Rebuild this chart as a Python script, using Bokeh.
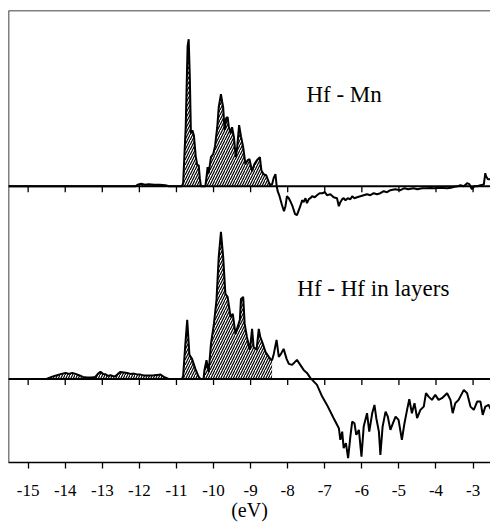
from bokeh.plotting import figure
from bokeh.models import Range1d, Span, Label, FixedTicker
from bokeh.embed import file_html
from bokeh.resources import INLINE

# ---------------- data (energy in eV, curve height in arbitrary units) ----------------
hfmn_E = [-15.53, -12.10, -12.05, -11.95, -11.85, -11.75, -11.60, -11.45, -11.30, -11.20,
          -10.85, -10.82, -10.75, -10.70, -10.67, -10.64, -10.61, -10.57, -10.53, -10.48,
          -10.44, -10.40, -10.37, -10.34, -10.22, -10.19, -10.16, -10.13, -10.07, -10.01,
          -9.96, -9.90, -9.86, -9.80, -9.77, -9.74, -9.70, -9.66, -9.62, -9.59, -9.54,
          -9.50, -9.45, -9.40, -9.36, -9.31, -9.26, -9.20, -9.14, -9.08, -9.03, -8.96,
          -8.90, -8.83, -8.75, -8.71, -8.65, -8.58, -8.51, -8.47, -8.42, -8.38, -8.33,
          -8.30, -8.27, -8.22, -8.16, -8.10, -8.06, -8.02, -7.97, -7.93, -7.87, -7.80,
          -7.75, -7.70, -7.66, -7.61, -7.57, -7.52, -7.48, -7.43, -7.39, -7.34, -7.27,
          -7.21, -7.14, -7.07, -7.00, -6.94, -6.85, -6.76, -6.67, -6.62, -6.58, -6.53,
          -6.49, -6.44, -6.38, -6.31, -6.26, -6.20, -6.13, -6.04, -5.95, -5.86, -5.77,
          -5.68, -5.59, -5.50, -5.41, -5.32, -5.23, -5.10, -4.96, -4.85, -4.75, -4.61,
          -4.50, -4.38, -4.27, -4.15, -4.02, -3.90, -3.80, -3.70, -3.60, -3.50, -3.41,
          -3.34, -3.25, -3.16, -3.10, -3.03, -2.96, -2.89, -2.80, -2.71, -2.67, -2.65,
          -2.60, -2.53]
hfmn_v = [0, 0, 1.5, 2.5, 1.5, 2, 1.5, 1.5, 1, 0,
          0, 3, 60, 140, 147, 110, 53, 56, 51, 30,
          21, 21, 8, 0, 0, 9, 19, 13, 29, 32,
          40, 59, 79, 92, 85, 79, 56, 68, 69, 60, 53,
          59, 49, 29, 40, 61, 50, 39, 22, 26, 27, 15,
          22, 26, 29, 16, 12, 11, 4, 1, 2, 8, 12,
          1, -5, -10, -18, -25, -20, -10, -12, -15, -20, -28,
          -29, -24, -20, -14, -16, -12, -17, -13, -12, -10, -11,
          -9, -7, -7, -6, -9, -8, -11, -12, -20, -16, -13,
          -12, -14, -12, -13, -10, -12, -11, -10, -9, -8, -9,
          -7, -8, -7, -5, -6, -4, -3, -4, -2, -3, -2,
          -3, -2, -2, -1.7, -2, -1.5, -1.7, -2, -1.5, -0.5, 0,
          1, 0, 3, 2, -3, 0, 0, 1, 1.7, 13, 10,
          7, 7]
hfmn_hatch_end = -8.47

hfhf_E = [-15.53, -14.50, -14.44, -14.33, -14.22, -14.10, -13.99, -13.90, -13.81, -13.72,
          -13.63, -13.52, -13.41, -13.30, -13.19, -13.12, -13.05, -12.98, -12.92, -12.85,
          -12.78, -12.72, -12.65, -12.58, -12.51, -12.42, -12.33, -12.24, -12.15, -12.06,
          -11.97, -11.88, -11.79, -11.70, -11.61, -11.52, -11.43, -11.34, -11.21, -10.85,
          -10.82, -10.76, -10.71, -10.65, -10.58, -10.49, -10.40, -10.35, -10.27, -10.245,
          -10.19, -10.13, -10.07, -9.99, -9.92, -9.86, -9.80, -9.74, -9.68, -9.62, -9.54,
          -9.48, -9.41, -9.35, -9.29, -9.26, -9.20, -9.16, -9.10, -9.02, -8.96, -8.92,
          -8.84, -8.78, -8.74, -8.67, -8.60, -8.51, -8.45, -8.42, -8.375, -8.30, -8.24,
          -8.18, -8.11, -8.03, -7.97, -7.88, -7.75, -7.66, -7.57, -7.48, -7.39, -7.21,
          -7.07, -6.94, -6.76, -6.62, -6.58, -6.53, -6.49, -6.43, -6.37, -6.31, -6.26,
          -6.20, -6.15, -6.08, -6.01, -5.95, -5.86, -5.80, -5.72, -5.66, -5.61, -5.54,
          -5.50, -5.44, -5.36, -5.30, -5.23, -5.16, -5.09, -5.01, -4.92, -4.85, -4.78,
          -4.72, -4.65, -4.58, -4.51, -4.42, -4.33, -4.27, -4.20, -4.11, -4.02, -3.93,
          -3.84, -3.70, -3.61, -3.55, -3.48, -3.39, -3.25, -3.16, -3.07, -2.98, -2.89,
          -2.80, -2.74, -2.67, -2.58, -2.53]
hfhf_v = [0, 0, 1, 2.5, 3.7, 5, 6, 5, 6, 5,
          3.7, 2, 1.3, 1.5, 2, 5, 7, 5, 4.7, 3,
          3.7, 3, 2.7, 5, 7, 6.5, 6, 5, 5.3, 4.5,
          4.3, 3.5, 3.3, 3.5, 3.7, 4, 4.3, 2, 0, 0,
          3, 35, 59, 24, 20, 10, 2, 0, 0, 8.7,
          18.7, 7, 35, 55, 79, 122, 147, 122, 85, 82, 62,
          65, 45, 52, 59, 80, 82, 55, 42, 29, 50, 32,
          29, 50, 42, 35, 27, 22, 19, 19, 25, 39, 22,
          25, 30, 20, 15, 14, 19, 14, 9, 6, 1, -6,
          -17.7, -26, -39.3, -49.3, -61, -52.7, -69.3, -64.3, -79.3, -57.7, -42.7,
          -44.3, -56, -51, -77.7, -47.7, -34.3, -52.7, -34.3, -26, -39.3, -52.7,
          -76, -47.7, -32.7, -37.7, -51, -44.3, -37.7, -41, -61, -44.3, -31,
          -20.3, -34.3, -24.3, -39.3, -31, -27.7, -14.3, -17.7, -21, -16, -21,
          -19.3, -14.3, -21, -34.3, -24.3, -21, -11, -14.3, -27.7, -31, -22.7,
          -22.7, -36, -27.7, -26, -30]
hfhf_hatch_end = -8.42

ticks = [-15, -14, -13, -12, -11, -10, -9, -8, -7, -6, -5, -4, -3]
x_start, x_end = -15.53, -2.53
title_top = "Hf - Mn"
title_bottom = "Hf - Hf in layers"
x_label = "(eV)"

# ---------------- layout / style ----------------
FONT = "Liberation Serif"
top_base = 276.3      # vertical offset of the upper curve
bot_base = 83.6       # vertical offset of the lower curve

p = figure(width=490, height=529, output_backend="svg", toolbar_location=None,
           x_range=Range1d(x_start, x_end), y_range=Range1d(0, 452),
           min_border_top=10, min_border_left=8, min_border_right=0,
           min_border_bottom=67)
p.outline_line_color = None
p.grid.visible = False
p.yaxis.visible = False
p.background_fill_color = "white"
p.border_fill_color = "white"

ax = p.xaxis[0]
ax.ticker = FixedTicker(ticks=ticks)
ax.major_label_overrides = {t: str(t) for t in ticks}
ax.minor_tick_line_color = None
ax.major_tick_in = 0
ax.major_tick_out = 6
ax.major_tick_line_width = 1.3
ax.axis_line_width = 1.5
ax.major_label_standoff = 16
ax.major_label_text_font = FONT
ax.major_label_text_font_size = "17px"
ax.major_label_text_color = "black"
ax.axis_label = x_label
ax.axis_label_text_font = FONT
ax.axis_label_text_font_style = "normal"
ax.axis_label_text_font_size = "20px"
ax.axis_label_text_color = "black"
ax.axis_label_standoff = 0

# frame left / top borders
p.add_layout(Span(location=x_start, dimension="height", line_color="black", line_width=1.5))
p.add_layout(Span(location=452, dimension="width", line_color="black", line_width=1.5))
# zero lines with their tick marks
for b in (top_base, bot_base):
    p.add_layout(Span(location=b, dimension="width", line_color="black", line_width=2))
    p.segment(x0=ticks, x1=ticks, y0=[b] * len(ticks), y1=[b - 6] * len(ticks),
              line_color="black", line_width=1.3)


def draw(E, v, base, hatch_end):
    y = [base + val for val in v]
    hx = [e for e in E if e <= hatch_end]
    hy = [base + max(val, 0) for e, val in zip(E, v) if e <= hatch_end]
    p.varea(x=hx, y1=[base] * len(hx), y2=hy, fill_color=None, fill_alpha=0,
            hatch_pattern="/", hatch_color="black", hatch_weight=1.2, hatch_scale=5)
    p.line(E, y, line_color="black", line_width=2)


draw(hfmn_E, hfmn_v, top_base, hfmn_hatch_end)
draw(hfhf_E, hfhf_v, bot_base, hfhf_hatch_end)

p.add_layout(Label(x=-7.495, y=368, text=title_top, text_font=FONT, text_font_size="23px",
                   text_color="black", text_baseline="alphabetic", text_align="left"))
p.add_layout(Label(x=-7.74, y=174.3, text=title_bottom, text_font=FONT, text_font_size="23px",
                   text_color="black", text_baseline="alphabetic", text_align="left"))

open("out.html", "w").write(file_html(p, INLINE))
